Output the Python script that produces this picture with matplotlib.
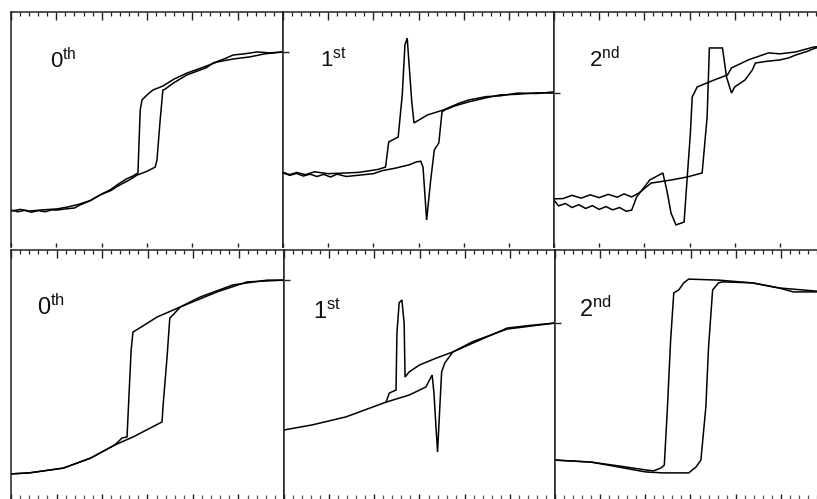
import matplotlib
matplotlib.use("Agg")
import matplotlib.pyplot as plt
from matplotlib.ticker import MultipleLocator, NullLocator

plt.rcParams['font.family'] = ['Liberation Sans', 'DejaVu Sans']
plt.rcParams['mathtext.fontset'] = 'custom'
plt.rcParams['mathtext.rm'] = 'Liberation Sans'
plt.rcParams['mathtext.it'] = 'Liberation Sans'

# ---------------- data (field x in [-3, 3], signal y in arbitrary units 0..1) -------------
labels = ['0', '1', '2']
suffixes = ['th', 'st', 'nd']

# top row, 0th harmonic
t0_up_x = [-3.0, -2.85, -2.7, -2.55, -2.4, -2.25, -2.1, -2.0, -1.8, -1.6, -1.48, -1.25, -1.04, -0.8, -0.6, -0.4, -0.22, 0.0, 0.18, 0.22, 0.29, 0.35, 0.40, 0.6, 0.88, 1.1, 1.3, 1.46, 1.7, 1.90, 2.15, 2.43, 2.7, 3.0]
t0_up_y = [0.157, 0.150, 0.156, 0.148, 0.155, 0.150, 0.158, 0.157, 0.162, 0.166, 0.179, 0.197, 0.221, 0.240, 0.264, 0.284, 0.306, 0.322, 0.340, 0.370, 0.540, 0.668, 0.672, 0.700, 0.732, 0.748, 0.762, 0.783, 0.800, 0.817, 0.822, 0.830, 0.826, 0.830]
t0_dn_x = [3.0, 2.6, 2.27, 1.9, 1.54, 1.2, 0.88, 0.6, 0.35, 0.13, 0.0, -0.11, -0.15, -0.20, -0.31, -0.45, -0.60, -0.8, -1.04, -1.25, -1.48, -1.75, -1.99, -2.3, -2.6, -2.8, -3.0]
t0_dn_y = [0.830, 0.822, 0.809, 0.800, 0.787, 0.762, 0.740, 0.715, 0.685, 0.668, 0.647, 0.626, 0.583, 0.315, 0.302, 0.290, 0.272, 0.245, 0.221, 0.198, 0.183, 0.170, 0.162, 0.158, 0.153, 0.160, 0.153]

# top row, 1st harmonic
t1_up_x = [-3.0, -2.85, -2.7, -2.55, -2.4, -2.25, -2.1, -1.95, -1.8, -1.6, -1.3, -1.0, -0.8, -0.5, -0.2, -0.05, 0.05, 0.10, 0.18, 0.27, 0.35, 0.45, 0.52, 0.58, 0.8, 1.1, 1.5, 1.8, 2.2, 2.6, 3.0]
t1_up_y = [0.315, 0.305, 0.313, 0.302, 0.310, 0.300, 0.309, 0.298, 0.310, 0.300, 0.306, 0.312, 0.325, 0.336, 0.350, 0.362, 0.365, 0.340, 0.115, 0.285, 0.413, 0.443, 0.574, 0.583, 0.600, 0.617, 0.635, 0.647, 0.650, 0.656, 0.655]
t1_dn_x = [3.0, 2.6, 2.2, 1.8, 1.5, 1.1, 0.9, 0.55, 0.2, -0.1, -0.15, -0.25, -0.30, -0.36, -0.45, -0.66, -0.73, -0.9, -1.3, -1.6, -2.0, -2.3, -2.5, -2.7, -2.85, -3.0]
t1_dn_y = [0.660, 0.653, 0.655, 0.643, 0.640, 0.625, 0.612, 0.583, 0.562, 0.528, 0.620, 0.889, 0.860, 0.647, 0.468, 0.447, 0.340, 0.330, 0.318, 0.315, 0.312, 0.320, 0.308, 0.317, 0.308, 0.318]

# top row, 2nd harmonic
t2_a_x = [-3.0, -2.9, -2.75, -2.6, -2.45, -2.3, -2.15, -2.0, -1.85, -1.7, -1.55, -1.4, -1.28, -1.17, -0.88, -0.59, -0.50, -0.41, -0.30, -0.12, -0.05, 0.02, 0.06, 0.17, 0.55, 0.84, 0.93, 1.3, 1.75, 2.0, 2.35, 2.75, 3.0]
t2_a_y = [0.200, 0.175, 0.185, 0.168, 0.180, 0.164, 0.176, 0.160, 0.172, 0.158, 0.168, 0.152, 0.157, 0.213, 0.285, 0.315, 0.240, 0.145, 0.094, 0.106, 0.298, 0.485, 0.638, 0.681, 0.711, 0.732, 0.762, 0.796, 0.826, 0.822, 0.830, 0.851, 0.855]
t2_b_x = [3.0, 2.79, 2.6, 2.35, 2.2, 2.0, 1.7, 1.46, 1.39, 1.23, 1.0, 0.93, 0.82, 0.73, 0.44, 0.39, 0.28, -0.05, -0.41, -0.85, -1.12, -1.28, -1.45, -1.6, -1.8, -2.0, -2.2, -2.4, -2.6, -2.8, -3.0]
t2_b_y = [0.850, 0.847, 0.832, 0.817, 0.805, 0.796, 0.790, 0.783, 0.753, 0.711, 0.681, 0.655, 0.723, 0.847, 0.847, 0.553, 0.315, 0.298, 0.285, 0.272, 0.230, 0.213, 0.226, 0.212, 0.224, 0.210, 0.222, 0.208, 0.220, 0.206, 0.205]

# bottom row, 0th harmonic
b0_up_x = [-3.0, -2.6, -1.85, -1.25, -0.72, -0.32, 0.32, 0.34, 0.43, 0.49, 0.56, 0.72, 1.16, 1.88, 2.63, 3.0]
b0_up_y = [0.108, 0.112, 0.131, 0.171, 0.223, 0.255, 0.315, 0.375, 0.574, 0.729, 0.741, 0.773, 0.813, 0.861, 0.880, 0.880]
b0_dn_x = [3.0, 2.19, 1.53, 0.72, 0.21, -0.14, -0.32, -0.36, -0.45, -0.56, -0.72, -1.25, -1.85, -2.6, -3.0]
b0_dn_y = [0.880, 0.873, 0.833, 0.773, 0.733, 0.693, 0.673, 0.600, 0.255, 0.251, 0.223, 0.171, 0.131, 0.112, 0.108]

# bottom row, 1st harmonic
b1_up_x = [-3.0, -2.38, -1.63, -0.74, -0.23, 0.14, 0.28, 0.32, 0.37, 0.40, 0.45, 0.49, 0.56, 0.74, 1.18, 1.94, 2.52, 3.0]
b1_up_y = [0.283, 0.303, 0.335, 0.394, 0.422, 0.454, 0.502, 0.430, 0.280, 0.195, 0.375, 0.514, 0.550, 0.594, 0.629, 0.689, 0.701, 0.709]
b1_dn_x = [3.0, 1.94, 1.18, 0.74, 0.38, 0.0, -0.23, -0.32, -0.34, -0.39, -0.45, -0.50, -0.52, -0.67, -0.74]
b1_dn_y = [0.709, 0.685, 0.635, 0.594, 0.570, 0.542, 0.514, 0.494, 0.709, 0.801, 0.790, 0.669, 0.442, 0.430, 0.394]

# bottom row, 2nd harmonic
b2_a_x = [-3.0, -2.2, -1.0, -0.62, -0.04, 0.12, 0.23, 0.34, 0.40, 0.49, 0.62, 0.71, 1.37, 1.95, 2.28, 3.0]
b2_a_y = [0.163, 0.155, 0.116, 0.112, 0.112, 0.135, 0.163, 0.375, 0.614, 0.841, 0.869, 0.873, 0.869, 0.849, 0.833, 0.833]
b2_b_x = [3.0, 1.95, 1.37, 0.62, -0.04, -0.15, -0.26, -0.37, -0.44, -0.51, -0.58, -0.66, -0.82, -1.0, -1.6, -2.2, -3.0]
b2_b_y = [0.833, 0.849, 0.869, 0.880, 0.884, 0.869, 0.841, 0.829, 0.641, 0.375, 0.143, 0.131, 0.120, 0.124, 0.140, 0.155, 0.163]

# sparse left-axis reference ticks (y units) for each panel: top row then bottom row
ref_ticks = [[], [0.83], [0.655], [], [0.880], [0.709]]

# ---------------- figure ----------------
W, H = 817, 499
fig = plt.figure(figsize=(W / 100, H / 100), dpi=100)

top_x = [(11, 283), (283, 554), (554, 825)]
bot_x = [(11, 284), (284, 555), (555, 826)]
rows = [(12, 247, top_x), (250, 501, bot_x)]

series = [
    [(t0_up_x, t0_up_y), (t0_dn_x, t0_dn_y)],
    [(t1_up_x, t1_up_y), (t1_dn_x, t1_dn_y)],
    [(t2_a_x, t2_a_y), (t2_b_x, t2_b_y)],
    [(b0_up_x, b0_up_y), (b0_dn_x, b0_dn_y)],
    [(b1_up_x, b1_up_y), (b1_dn_x, b1_dn_y)],
    [(b2_a_x, b2_a_y), (b2_b_x, b2_b_y)],
]
label_pos = [(0.143, 0.762), (0.137, 0.766), (0.129, 0.766),
             (0.095, 0.741), (0.107, 0.725), (0.089, 0.733)]
label_size = [16, 17]
ink = '#222222'

k = 0
for r, (ytop, ybot, xs) in enumerate(rows):
    for c, (x0, x1) in enumerate(xs):
        ax = fig.add_axes([x0 / W, 1 - ybot / H, (x1 - x0) / W, (ybot - ytop) / H])
        for sx, sy in series[k]:
            ax.plot(sx, sy, color='black', lw=1.1, solid_joinstyle='miter')
        ax.set_xlim(-3, 3)
        ax.set_ylim(0, 1)
        ax.spines['bottom'].set_visible(False)
        for s in ['top', 'left', 'right']:
            ax.spines[s].set_linewidth(1.1)
            ax.spines[s].set_color(ink)
        ax.xaxis.set_major_locator(MultipleLocator(1))
        ax.xaxis.set_minor_locator(MultipleLocator(0.2))
        ax.tick_params(axis='x', which='both', direction='in', top=True, bottom=False,
                       labeltop=False, labelbottom=False, color=ink)
        ax.tick_params(axis='x', which='major', length=6, width=1.0)
        ax.tick_params(axis='x', which='minor', length=3, width=0.9)
        ax.set_yticks(ref_ticks[k])
        ax.tick_params(axis='y', which='both', direction='in', length=4, width=1.0,
                       left=True, right=False, labelleft=False, color=ink)

        # bottom edge ticks (short)
        sec = ax.secondary_xaxis('bottom')
        sec.spines['bottom'].set_visible(False)
        sec.xaxis.set_major_locator(MultipleLocator(1))
        if r == 0:
            sec.xaxis.set_minor_locator(NullLocator())
            sec.tick_params(axis='x', which='major', direction='in', length=3, width=1.0,
                            labelbottom=False, color=ink, pad=0)
        else:
            sec.xaxis.set_minor_locator(MultipleLocator(0.2))
            sec.tick_params(axis='x', which='major', direction='in', length=5, width=1.0,
                            labelbottom=False, color=ink)
            sec.tick_params(axis='x', which='minor', direction='in', length=4, width=0.9,
                            labelbottom=False, color='#555555')

        num, suf = labels[c], suffixes[c]
        lx, ly = label_pos[k]
        ax.text(lx, ly, r'$\mathregular{%s^{%s}}$' % (num, suf), transform=ax.transAxes,
                fontsize=label_size[r], va='baseline', ha='left', color='#111111')
        k += 1

fig.savefig('out.png', dpi=100)
